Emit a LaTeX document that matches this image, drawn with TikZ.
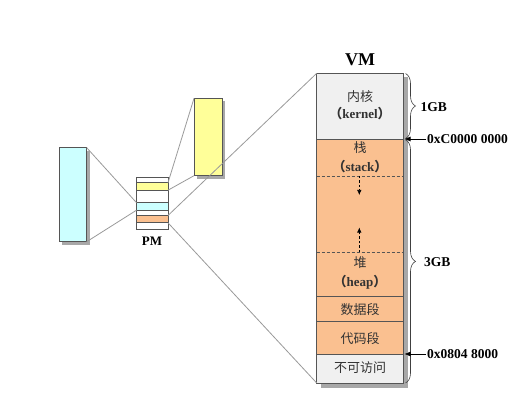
\documentclass[tikz,border=0pt]{standalone}
\usepackage{fontspec}
\setmainfont{Liberation Serif}
\newfontfamily\cjk{Noto Sans CJK SC}
\usetikzlibrary{decorations.pathreplacing,arrows.meta}
\definecolor{cyanc}{HTML}{CCFFFF}
\definecolor{yellowc}{HTML}{FFFF99}
\definecolor{orangec}{HTML}{FAC090}
\definecolor{kgray}{HTML}{F0F0F0}
\definecolor{shadowc}{HTML}{A8A8A8}
\definecolor{edgec}{HTML}{555555}
\definecolor{linkc}{HTML}{999999}
\begin{document}
\begin{tikzpicture}[x=1pt,y=-1pt,
  box/.style={draw=edgec, line width=0.6pt, inner sep=0pt, outer sep=0pt, anchor=north west},
  link/.style={draw=linkc, line width=0.8pt},
  cjktxt/.style={font=\cjk\fontsize{13}{13}\selectfont, text=black!80, inner sep=0pt},
  entxt/.style={font=\bfseries\fontsize{13}{13}\selectfont, text=black!80, inner sep=0pt},
  lbl/.style={font=\bfseries\fontsize{13.5}{13.5}\selectfont, inner sep=1pt, anchor=west},
  bracec/.style={draw=black!75, line width=0.6pt, decorate, decoration={brace, amplitude=10pt}},
  addrarrow/.style={draw=black, line width=0.6pt, -{Latex[length=6pt,width=5pt]}},
  growarrow/.style={draw=black, line width=0.6pt, dashed, dash pattern=on 2.5pt off 2pt, -{Latex[length=5pt,width=4.5pt]}},
  divider/.style={draw=edgec, line width=0.6pt, dashed, dash pattern=on 3pt off 2pt}
]
\useasboundingbox (0,0) rectangle (518,419);

% shadows
\fill[shadowc] (62.3,150.7) rectangle (89.7,244.7);
\fill[shadowc] (197,101.3) rectangle (225,178.7);
\fill[shadowc] (321,77.5) rectangle (408,387.5);

% left boxes
\node[box, fill=cyanc, minimum width=27.4pt, minimum height=94pt] (cyanbox) at (59.3,147.7) {};
\node[box, fill=yellowc, minimum width=28pt, minimum height=77.4pt] (yellowbox) at (194,98.3) {};

% PM
\node[box, fill=white, minimum width=31.5pt, minimum height=51.7pt] (pm) at (136.5,177.3) {};
\node[box, fill=yellowc, minimum width=31.5pt, minimum height=7.5pt] (pmy) at (136.5,182.7) {};
\node[box, fill=cyanc, minimum width=31.5pt, minimum height=7.5pt] (pmc) at (136.5,202.7) {};
\node[box, fill=orangec, minimum width=31.5pt, minimum height=7.3pt] (pmo) at (136.5,215.5) {};
\node[font=\bfseries\fontsize{13}{13}\selectfont, inner sep=0pt] (pmlabel) at (152,241) {PM};

% VM
\node[box, fill=kgray, minimum width=86.6pt, minimum height=65.7pt] (kernel) at (316.7,73.3) {};
\node[box, fill=orangec, minimum width=86.6pt, minimum height=157pt] (stackheap) at (316.7,139) {};
\node[box, fill=orangec, minimum width=86.6pt, minimum height=25.7pt] (data) at (316.7,296) {};
\node[box, fill=orangec, minimum width=86.6pt, minimum height=32.6pt] (code) at (316.7,321.7) {};
\node[box, fill=kgray, minimum width=86.6pt, minimum height=28.7pt] (noacc) at (316.7,354.3) {};
\node[font=\bfseries\fontsize{18}{18}\selectfont, inner sep=0pt] (vmlabel) at (360,60) {VM};

% dashed dividers
\coordinate (d1l) at (316.7,176);
\coordinate (d1r) at (403.3,176);
\coordinate (d2l) at (316.7,252.3);
\coordinate (d2r) at (403.3,252.3);
\draw[divider] (d1l) -- (d1r);
\draw[divider] (d2l) -- (d2r);
\coordinate (s1) at (359.3,176);
\coordinate (s2) at (359.3,195);
\coordinate (h1) at (359.3,252.3);
\coordinate (h2) at (359.3,227.5);
\draw[growarrow] (s1) -- (s2);
\draw[growarrow] (h1) -- (h2);

% texts
\node[cjktxt] (t1) at (360,96.7) {内核};
\node[entxt] (t2) at (360,114) {{\cjk （}kernel{\cjk ）}};
\node[cjktxt] (t3) at (360,148) {栈};
\node[entxt] (t4) at (360,166.5) {{\cjk （}stack{\cjk ）}};
\node[cjktxt] (t5) at (360,263) {堆};
\node[entxt] (t6) at (360,282) {{\cjk （}heap{\cjk ）}};
\node[cjktxt] (t7) at (360,309.3) {数据段};
\node[cjktxt] (t8) at (360,338.3) {代码段};
\node[cjktxt] (t9) at (360,367.5) {不可访问};

% braces
\coordinate (b1t) at (405.5,73.5);
\coordinate (b1b) at (405.5,138.5);
\coordinate (b2t) at (405.5,139.8);
\coordinate (b2b) at (405.5,383);
\draw[bracec] (b1t) -- (b1b);
\draw[bracec] (b2t) -- (b2b);
\node[lbl] (gb1) at (419.5,107) {1GB};
\node[lbl] (gb3) at (423,262) {3GB};

% address arrows
\node[lbl] (addr1) at (426,139) {0xC0000 0000};
\node[lbl] (addr2) at (426,354) {0x0804 8000};
\coordinate (a1) at (404.5,139);
\coordinate (a2) at (404.5,354);
\draw[addrarrow] (addr1.west) -- (a1);
\draw[addrarrow] (addr2.west) -- (a2);

% connectors
\draw[link] (cyanbox.north east) -- (pmc.north west);
\draw[link] (cyanbox.south east) -- (pmc.south west);
\draw[link] (yellowbox.north west) -- (pmy.north east);
\draw[link] (yellowbox.south west) -- (pmy.south east);
\draw[link] (pmo.north east) -- (kernel.north west);
\draw[link] (pmo.south east) -- (noacc.south west);
\end{tikzpicture}
\end{document}
